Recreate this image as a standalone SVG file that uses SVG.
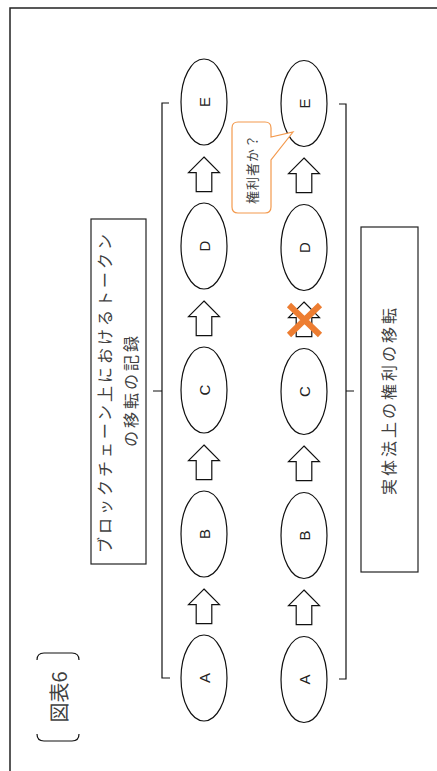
<svg xmlns="http://www.w3.org/2000/svg" width="437" height="771" viewBox="0 0 437 771">
<style>
.frame{fill:none;stroke:#222;stroke-width:1.5}
.node{fill:#fff;stroke:#111;stroke-width:1.2}
.arr{fill:#fff;stroke:#111;stroke-width:1.2}
.lbl{font-family:"Liberation Sans","Noto Sans CJK JP",sans-serif;font-size:15px;fill:#222;text-anchor:middle;dominant-baseline:central}
.jp{font-family:"Noto Sans CJK JP",sans-serif;font-size:16px;fill:#404040;text-anchor:middle;dominant-baseline:central;letter-spacing:3px}
.box{fill:#fff;stroke:#222;stroke-width:1.2}
.brace{fill:none;stroke:#111;stroke-width:1.2}
.cross{stroke:#ED7D31;stroke-width:6}
</style>
<rect class="frame" x="10" y="8" width="460" height="800"/>
<g id="figure-label">
<path class="brace" d="M37,660 Q37,653 44,653 H72 Q79,653 79,660 M37,734 Q37,741 44,741 H72 Q79,741 79,734"/>
<text class="jp" style="font-size:20px;letter-spacing:0" transform="translate(58,697) rotate(-90)">図表6</text>
</g>
<g id="box-blockchain">
<rect class="box" x="91" y="219" width="55" height="345"/>
<text class="jp" transform="translate(104,392) rotate(-90)">ブロックチェーン上におけるトークン</text>
<text class="jp" transform="translate(130,390) rotate(-90)">の移転の記録</text>
</g>
<g id="box-law">
<rect class="box" x="361" y="227" width="57" height="345"/>
<text class="jp" transform="translate(388,400) rotate(-90)">実体法上の権利の移転</text>
</g>
<g id="connectors">
<path class="brace" d="M169,103 H162 V678 H170 M153,391 H162"/>
<path class="brace" d="M339,104 H346 V679 H339 M346,391 H354"/>
<path class="arr" d="M204,157 L219.5,172.7 L211.8,172.7 L211.8,191.7 L196.2,191.7 L196.2,172.7 L188.5,172.7 Z"/>
<path class="arr" d="M204,301 L219.5,316.7 L211.8,316.7 L211.8,335.7 L196.2,335.7 L196.2,316.7 L188.5,316.7 Z"/>
<path class="arr" d="M204,445 L219.5,460.7 L211.8,460.7 L211.8,479.7 L196.2,479.7 L196.2,460.7 L188.5,460.7 Z"/>
<path class="arr" d="M204,589 L219.5,604.7 L211.8,604.7 L211.8,623.7 L196.2,623.7 L196.2,604.7 L188.5,604.7 Z"/>
<path class="arr" d="M304,158 L319.5,173.7 L311.8,173.7 L311.8,192.7 L296.2,192.7 L296.2,173.7 L288.5,173.7 Z"/>
<path class="arr" d="M304,302 L319.5,317.7 L311.8,317.7 L311.8,336.7 L296.2,336.7 L296.2,317.7 L288.5,317.7 Z"/>
<path class="arr" d="M304,446 L319.5,461.7 L311.8,461.7 L311.8,480.7 L296.2,480.7 L296.2,461.7 L288.5,461.7 Z"/>
<path class="arr" d="M304,590 L319.5,605.7 L311.8,605.7 L311.8,624.7 L296.2,624.7 L296.2,605.7 L288.5,605.7 Z"/>
<path class="cross" d="M289,305 L320,335 M320,305 L289,335"/>
</g>
<g id="node-E1"><ellipse class="node" cx="204" cy="102" rx="23" ry="43"/><text class="lbl" transform="translate(204,102) rotate(-90)">E</text></g>
<g id="node-D1"><ellipse class="node" cx="204" cy="246" rx="23" ry="43"/><text class="lbl" transform="translate(204,246) rotate(-90)">D</text></g>
<g id="node-C1"><ellipse class="node" cx="204" cy="390" rx="23" ry="43"/><text class="lbl" transform="translate(204,390) rotate(-90)">C</text></g>
<g id="node-B1"><ellipse class="node" cx="204" cy="534" rx="23" ry="43"/><text class="lbl" transform="translate(204,534) rotate(-90)">B</text></g>
<g id="node-A1"><ellipse class="node" cx="204" cy="678" rx="23" ry="43"/><text class="lbl" transform="translate(204,678) rotate(-90)">A</text></g>
<g id="node-E2"><ellipse class="node" cx="304" cy="103.5" rx="23" ry="43"/><text class="lbl" transform="translate(304,103.5) rotate(-90)">E</text></g>
<g id="node-D2"><ellipse class="node" cx="304" cy="247.5" rx="23" ry="43"/><text class="lbl" transform="translate(304,247.5) rotate(-90)">D</text></g>
<g id="node-C2"><ellipse class="node" cx="304" cy="391.5" rx="23" ry="43"/><text class="lbl" transform="translate(304,391.5) rotate(-90)">C</text></g>
<g id="node-B2"><ellipse class="node" cx="304" cy="535.5" rx="23" ry="43"/><text class="lbl" transform="translate(304,535.5) rotate(-90)">B</text></g>
<g id="node-A2"><ellipse class="node" cx="304" cy="679.5" rx="23" ry="43"/><text class="lbl" transform="translate(304,679.5) rotate(-90)">A</text></g>
<g id="callout">
<path d="M238,122 H265 Q271,122 271,128 V137 L293,132 L271,160 V207 Q271,213 265,213 H238 Q232,213 232,207 V128 Q232,122 238,122 Z" fill="#fff" stroke="#F39A4E" stroke-width="1.2"/>
<text class="jp" style="font-size:13px;letter-spacing:1px" transform="translate(251,169) rotate(-90)">権利者か？</text>
</g>
</svg>
